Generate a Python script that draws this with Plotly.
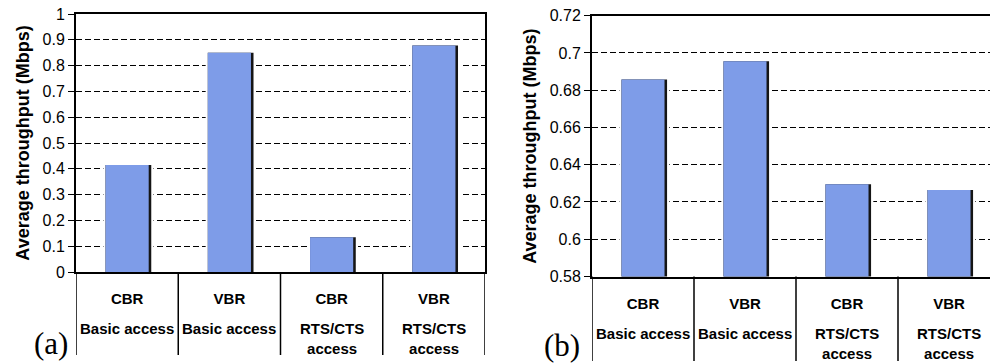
import plotly.graph_objects as go

# ---------------- data ----------------
categories = ["CBR Basic access", "VBR Basic access", "CBR RTS/CTS access", "VBR RTS/CTS access"]
traffic_labels = ["CBR", "VBR", "CBR", "VBR"]
access_labels = ["Basic access", "Basic access", "RTS/CTS<br>access", "RTS/CTS<br>access"]
throughput_a = [0.415, 0.85, 0.135, 0.878]
throughput_b = [0.6858, 0.6955, 0.6295, 0.6265]
y_ticks_a = [0, 0.1, 0.2, 0.3, 0.4, 0.5, 0.6, 0.7, 0.8, 0.9, 1]
y_ticks_b = [0.58, 0.6, 0.62, 0.64, 0.66, 0.68, 0.7, 0.72]
y_title = "Average throughput (Mbps)"
panel_labels = ["(a)", "(b)"]

# ---------------- style ----------------
W, H = 990, 364
BAR = "#7e9ce8"
FONT = "Liberation Sans, Arial, sans-serif"
SERIF = "Liberation Serif, Times New Roman, serif"

def px_x(p):
    return p / W

def px_y(p):
    return 1 - p / H

dom_a_x = [px_x(76), px_x(485)]
dom_a_y = [px_y(272), px_y(14)]
dom_b_x = [px_x(592), 1.0]
dom_b_y = [px_y(276.5), px_y(15.7)]

fig = go.Figure()

def add_bars(vals, xa, ya):
    # white halo (gap in gridlines), dark shadow edge, blue bar
    fig.add_trace(go.Bar(x=categories, y=vals, width=0.49, offset=-0.232,
                         marker=dict(color="white", line=dict(width=0)),
                         xaxis=xa, yaxis=ya, showlegend=False, hoverinfo="skip"))
    fig.add_trace(go.Bar(x=categories, y=vals, width=0.447, offset=-0.211,
                         marker=dict(color="#151515", line=dict(width=0)),
                         xaxis=xa, yaxis=ya, showlegend=False, hoverinfo="skip"))
    fig.add_trace(go.Bar(x=categories, y=vals, width=0.422, offset=-0.211,
                         marker=dict(color=BAR, line=dict(width=0)),
                         xaxis=xa, yaxis=ya, showlegend=False))

add_bars(throughput_a, "x", "y")
add_bars(throughput_b, "x2", "y2")

xaxis_common = dict(
    type="category", showgrid=False, zeroline=False, showline=True,
    linecolor="black", linewidth=2, mirror=True, ticks="",
    tickmode="array", tickvals=categories, ticktext=traffic_labels,
    tickfont=dict(family=FONT, size=15, color="black", weight="bold"),
    ticklabelstandoff=12, fixedrange=True,
)
yaxis_common = dict(
    showgrid=True, gridcolor="black", gridwidth=1, griddash="6px,3px",
    zeroline=False, showline=True, linecolor="black", linewidth=2,
    ticks="outside", ticklen=6, tickcolor="black", tickwidth=1,
    tickfont=dict(family=FONT, size=16, color="black"),
    title=dict(text=y_title, font=dict(family=FONT, size=18, color="black", weight="bold"),
               standoff=8),
    automargin=False, fixedrange=True,
)

fig.update_layout(
    width=W, height=H, margin=dict(l=0, r=0, t=0, b=0),
    paper_bgcolor="white", plot_bgcolor="white", barmode="overlay",
    xaxis=dict(xaxis_common, domain=dom_a_x, range=[-0.5, 3.5], anchor="y"),
    yaxis=dict(yaxis_common, domain=dom_a_y, range=[0, 1], tickvals=y_ticks_a,
               mirror=True, anchor="x"),
    xaxis2=dict(xaxis_common, domain=dom_b_x, range=[-0.5, 3.402], anchor="y2"),
    yaxis2=dict(yaxis_common, domain=dom_b_y, range=[0.58, 0.72], tickvals=y_ticks_b,
                mirror=False, anchor="x2"),
)

# category divider lines of the label table below each chart
shapes = []
annotations = []
for xref, xmax, ybot, ylow, ylab in [("x", 3.5, dom_a_y[0], px_y(355), px_y(318)),
                                     ("x2", 3.402, dom_b_y[0], px_y(361), px_y(323))]:
    for i in range(len(categories) + 1):
        xb = i - 0.5
        if xb <= xmax:
            shapes.append(dict(type="line", xref=xref, yref="paper", x0=xb, x1=xb,
                               y0=ybot, y1=ylow, line=dict(color="black", width=1.5)))
    for cat, lab in zip(categories, access_labels):
        annotations.append(dict(xref=xref, yref="paper", x=cat, y=ylab, text=lab,
                                showarrow=False, yanchor="top", xanchor="center",
                                font=dict(family=FONT, size=15, color="black", weight="bold")))

annotations.append(dict(xref="paper", yref="paper", x=px_x(51), y=px_y(343), text=panel_labels[0],
                        showarrow=False, xanchor="center", yanchor="middle",
                        font=dict(family=SERIF, size=31, color="black")))
annotations.append(dict(xref="paper", yref="paper", x=px_x(562), y=px_y(345), text=panel_labels[1],
                        showarrow=False, xanchor="center", yanchor="middle",
                        font=dict(family=SERIF, size=31, color="black")))

fig.update_layout(shapes=shapes, annotations=annotations)

fig.write_html("out.html", config={"displayModeBar": False},
               post_script="document.body.style.margin='0px';document.body.style.overflow='hidden';")
